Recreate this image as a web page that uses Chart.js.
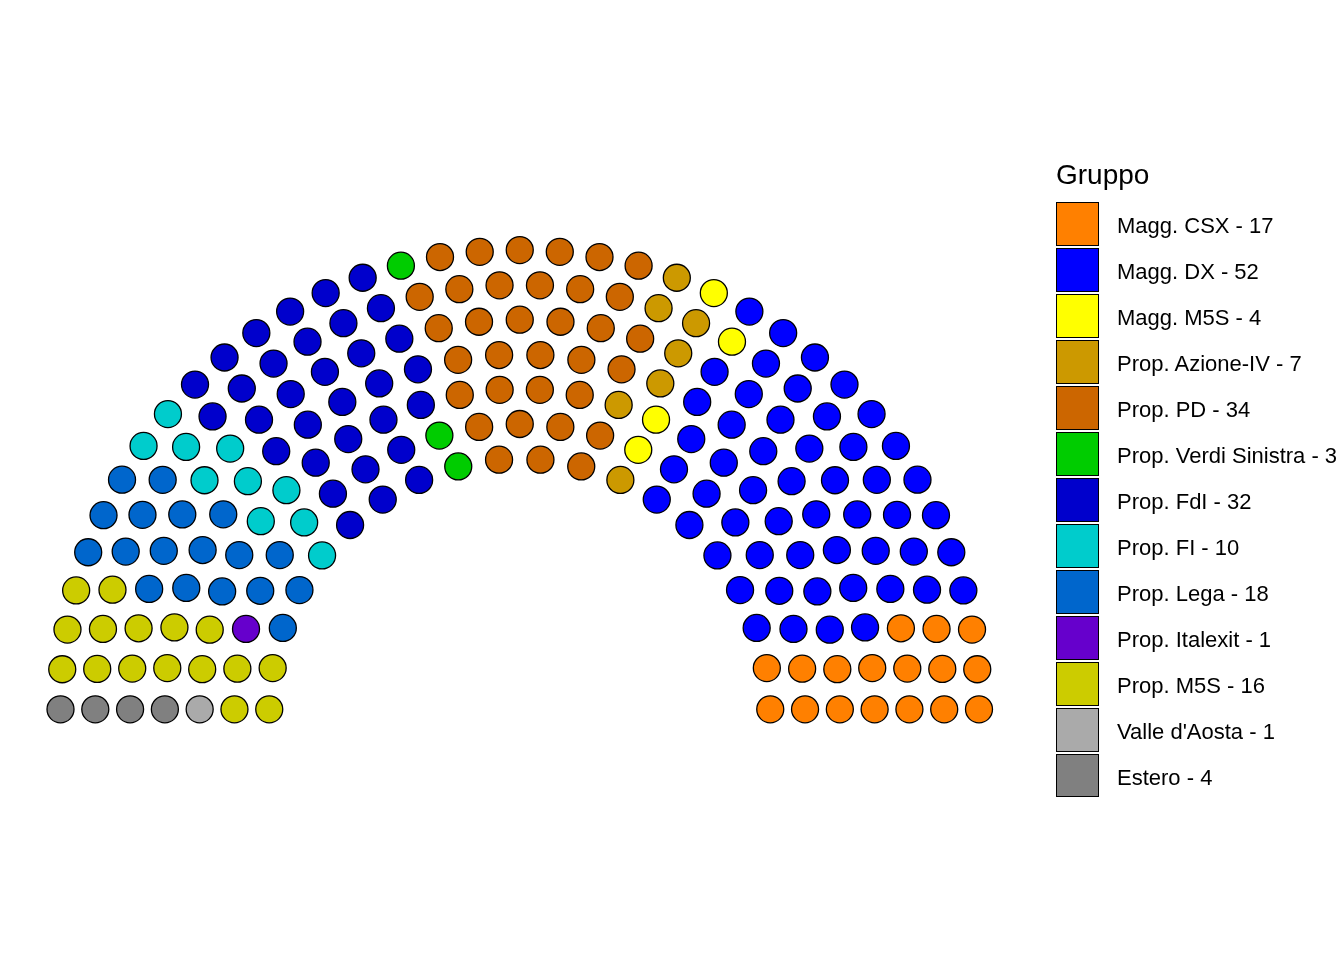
<!DOCTYPE html>
<html>
<head>
<meta charset="utf-8">
<script src="https://cdn.jsdelivr.net/npm/chart.js@4"></script>
<style>
  html, body { margin: 0; padding: 0; background: #ffffff; width: 1344px; height: 960px; overflow: hidden; }
  #wrap { position: relative; width: 1344px; height: 960px; font-family: "Liberation Sans", Arial, sans-serif; }
  #chart { position: absolute; left: 0; top: 0; }
  #legend { position: absolute; left: 1056px; top: 161.4px; white-space: nowrap; }
  #legend .title { font-size: 28px; line-height: 28px; height: 28px; color: #000; margin-bottom: 12.9px; }
  #legend .item { position: relative; height: 43.4px; margin-bottom: 2.6px; }
  #legend .box { position: absolute; left: 0; top: 0; width: 43.4px; height: 43.4px; box-sizing: border-box; border: 1.5px solid #000; }
  #legend .label { position: absolute; left: 61px; top: 1.5px; font-size: 22px; line-height: 43.4px; color: #000; }
</style>
</head>
<body>
<div id="wrap">
  <canvas id="chart" width="1344" height="960"></canvas>
  <div id="legend"></div>
</div>
<script>
// ---- data ----
const legendTitle = "Gruppo";
const groups = [
  "Magg. CSX", "Magg. DX", "Magg. M5S", "Prop. Azione-IV", "Prop. PD",
  "Prop. Verdi Sinistra", "Prop. FdI", "Prop. FI", "Prop. Lega", "Prop. Italexit",
  "Prop. M5S", "Valle d'Aosta", "Estero"
];
const seats = [17, 52, 4, 7, 34, 3, 32, 10, 18, 1, 16, 1, 4];
const colors = [
  "#FF8000", "#0000FF", "#FFFF00", "#CC9900", "#CC6600",
  "#00CC00", "#0000CC", "#00CCCC", "#0066CC", "#6600CC",
  "#CCCC00", "#AAAAAA", "#808080"
];
const parlRows = 7;
const outerRadius = 2.2;
const innerRadius = 1.2;

// ---- semicircle parliament layout (computed from seat totals) ----
// rows are filled from the outer row inwards; seats are ordered by angle
// (degrees, from the right end), inner rows first on equal angles.
function parliamentLayout(total, rows, rOuter, rInner) {
  const radii = [];
  for (let i = 0; i < rows; i++) radii.push(rOuter + i * ((rInner - rOuter) / (rows - 1)));
  let remaining = total;
  const pts = [];
  for (let i = 0; i < rows; i++) {
    const rest = radii.slice(i).reduce((a, b) => a + b, 0);
    const count = Math.round(remaining * radii[i] / rest);
    const step = 180 / (count - 1);
    for (let j = 0; j < count; j++) {
      const deg = j === count - 1 ? 180 : j * step;
      const rad = deg * Math.PI / 180;
      pts.push({ x: -radii[i] * Math.cos(rad), y: radii[i] * Math.sin(rad), row: i + 1, deg: deg });
    }
    remaining -= count;
  }
  pts.sort((a, b) => (b.deg - a.deg) || (b.row - a.row));
  return pts;
}

const total = seats.reduce((a, b) => a + b, 0);
const seatPts = parliamentLayout(total, parlRows, outerRadius, innerRadius);

// assign seats to groups in legend order, starting from the right end
const partyPoints = groups.map(() => []);
let idx = 0;
groups.forEach((name, g) => {
  for (let k = 0; k < seats[g]; k++) {
    const p = seatPts[idx++];
    partyPoints[g].push({ x: p.x, y: p.y });
  }
});

const datasets = groups.map((name, g) => ({
  label: name + " - " + seats[g],
  data: partyPoints[g],
  backgroundColor: colors[g],
  borderColor: "#000000",
  borderWidth: 1.3,
  pointRadius: 13.5,
  pointHoverRadius: 13.5
}));

// scale ranges so that one unit has the same length on both axes
const pxPerUnit = 459.25 / outerRadius;
const cx = 519.75, cy = 709.3;

new Chart(document.getElementById("chart"), {
  type: "scatter",
  data: { datasets },
  options: {
    responsive: false,
    animation: false,
    devicePixelRatio: 1,
    layout: { autoPadding: false, padding: 0 },
    plugins: { legend: { display: false }, tooltip: { enabled: false } },
    scales: {
      x: { type: "linear", display: false, min: -cx / pxPerUnit, max: (1344 - cx) / pxPerUnit },
      y: { type: "linear", display: false, min: -(960 - cy) / pxPerUnit, max: cy / pxPerUnit }
    }
  }
});

// ---- legend ----
const legend = document.getElementById("legend");
const t = document.createElement("div");
t.className = "title";
t.textContent = legendTitle;
legend.appendChild(t);
groups.forEach((name, g) => {
  const item = document.createElement("div");
  item.className = "item";
  const box = document.createElement("div");
  box.className = "box";
  box.style.background = colors[g];
  const lab = document.createElement("div");
  lab.className = "label";
  lab.textContent = name + " - " + seats[g];
  item.appendChild(box);
  item.appendChild(lab);
  legend.appendChild(item);
});
</script>
</body>
</html>
